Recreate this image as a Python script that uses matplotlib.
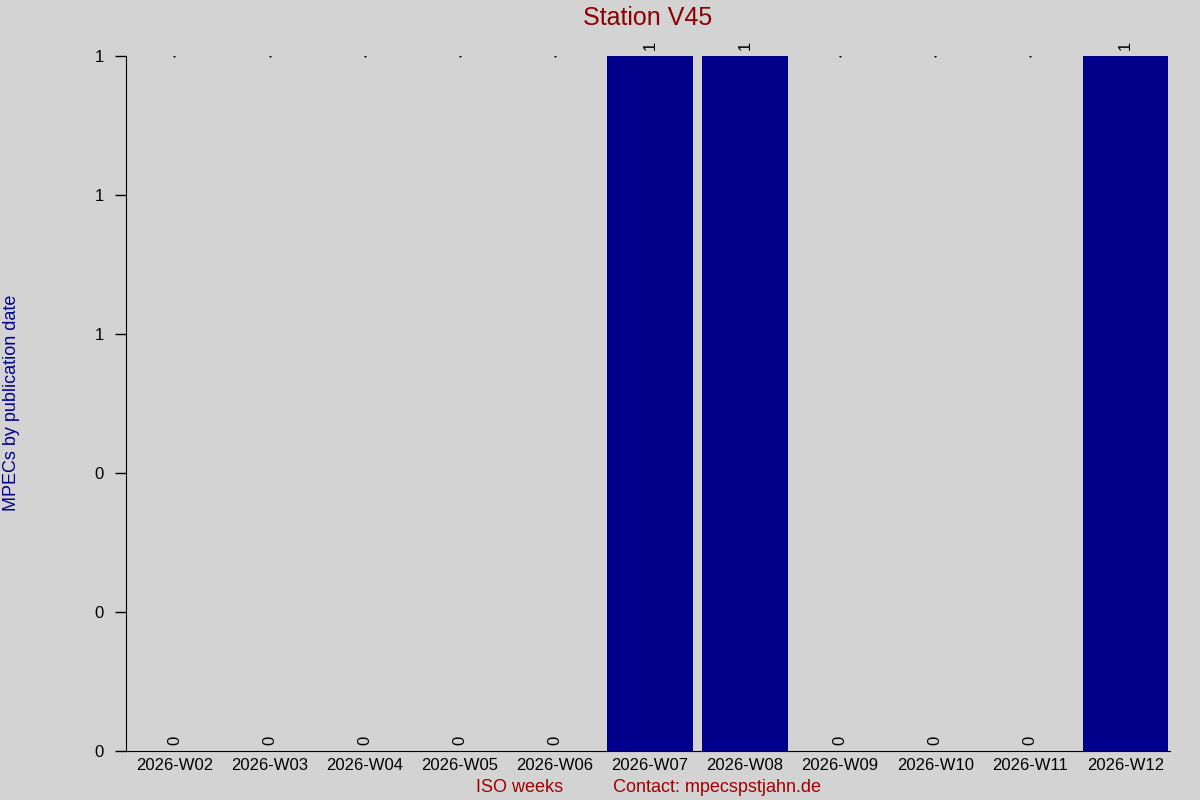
import matplotlib
matplotlib.use("Agg")
import matplotlib.pyplot as plt
import numpy as np

weeks = ["2026-W02", "2026-W03", "2026-W04", "2026-W05", "2026-W06", "2026-W07",
         "2026-W08", "2026-W09", "2026-W10", "2026-W11", "2026-W12"]
counts = [0, 0, 0, 0, 0, 1, 1, 0, 0, 0, 1]
title = "Station V45"
ylabel = "MPECs by publication date"
xlabel = "ISO weeks          Contact: mpecspstjahn.de"

plt.rcParams['font.family'] = ['Liberation Sans', 'DejaVu Sans']
bg = '#d3d3d3'
fig = plt.figure(figsize=(12, 8), dpi=100, facecolor=bg)
ax = fig.add_axes([0.105, 0.06125, 0.87, 0.86875], facecolor=bg)

x = np.arange(len(weeks))
ax.bar(x, counts, width=0.9, color='#00008b')
ymax = max(counts)
for xi, c in zip(x, counts):
    ax.text(xi, c + 0.008 * ymax, str(c), rotation=90, ha='center', va='bottom', fontsize=12, color='black')
    if c == 0:
        ax.plot([xi], [ymax], marker='.', ms=1.2, color='black')

ax.set_xlim(-0.51, 10.47)
ax.set_ylim(0, ymax)
ax.set_yticks(np.linspace(0, ymax, 6))
ax.set_yticklabels([f"{v:.0f}" for v in np.linspace(0, ymax, 6)], fontsize=12)
ax.set_xticks(x)
ax.set_xticklabels(weeks, fontsize=12)
ax.tick_params(axis='x', length=0, pad=5)
ax.tick_params(axis='y', length=8, width=1, pad=8)
for s in ['top', 'right']:
    ax.spines[s].set_visible(False)
ax.set_title(title, color='#8b0000', fontsize=18, pad=22)
ax.set_xlabel(xlabel, color='#a00000', fontsize=13, labelpad=4)
fig.text(0.0095, 0.497, ylabel, rotation=90, va='center', ha='center', color='#00008b', fontsize=13)
fig.savefig("out.png", dpi=100, facecolor=bg)
